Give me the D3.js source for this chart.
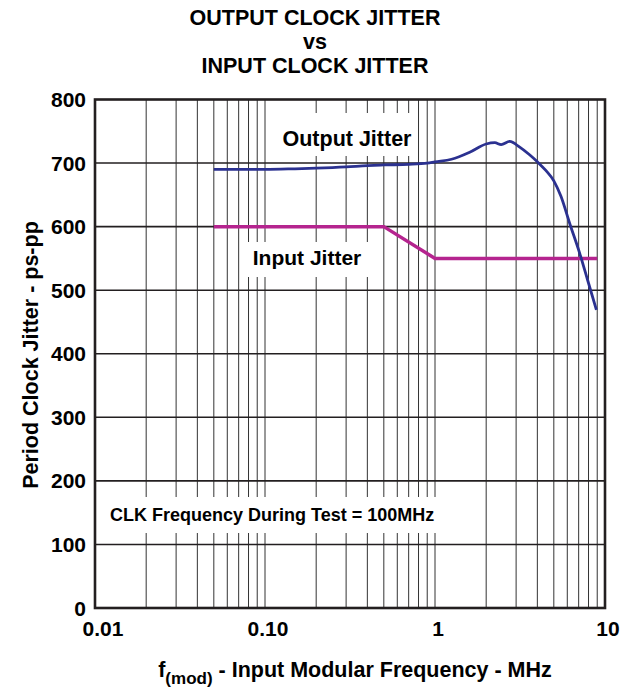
<!DOCTYPE html>
<html>
<head>
<meta charset="utf-8">
<script src="https://cdn.jsdelivr.net/npm/d3@7"></script>
<style>
body { margin: 0; background: #fff; }
svg { display: block; font-family: "Liberation Sans", Arial, sans-serif; font-weight: bold; }
</style>
</head>
<body>
<svg></svg>
<script>
var titleLines = ["OUTPUT CLOCK JITTER", "vs", "INPUT CLOCK JITTER"],
    xTicks = [0.01, 0.1, 1, 10],
    xTickLabels = ["0.01", "0.10", "1", "10"],
    yTicks = [0, 100, 200, 300, 400, 500, 600, 700, 800]

// output jitter
var outFreq = [0.05, 0.07, 0.1, 0.15, 0.2, 0.3, 0.4, 0.5, 0.7, 0.9, 1.0, 1.25, 1.6, 2.0, 2.25, 2.45, 2.75, 3.15, 3.6, 4.0, 4.5, 5.0, 5.5, 6.2, 7.1, 7.9, 8.9],
    outJitter = [690, 690, 690, 691, 692, 694, 696, 697, 698, 700, 702, 706, 717, 730, 732, 729, 734, 725, 713, 702, 688, 672, 648, 605, 558, 516, 469]

var inFreq = [0.05, 0.5, 1, 9],
    inJitter = [600, 600, 550, 550]

var width = 626, height = 693,
    pLeft = 95, pRight = 605, pTop = 99.5, pBottom = 608,
    ink = "#231f20"

var svg = d3.select("svg")
    .attr("width", width)
    .attr("height", height)

var x = d3.scaleLog().domain([0.01, 10]).range([pLeft, pRight]),
    y = d3.scaleLinear().domain([0, 800]).range([pBottom, pTop])

// vertical grid
svg.append("g").selectAll("line")
    .data(x.ticks().filter(d => d > 0.01 && d < 10))
    .enter().append("line")
    .attr("x1", d => x(d)).attr("x2", d => x(d))
    .attr("y1", pTop).attr("y2", pBottom)
    .attr("stroke", "#333")
    .attr("stroke-width", 1)

// white boxes behind the labels
var boxes = [
    { x0: 278, x1: 416, y0: 113, y1: 156 },
    { x0: 240, x1: 377, y0: 242, y1: 277 },
    { x0: 97, x1: 440, y0: 497, y1: 533 }
]
svg.append("g").selectAll("rect")
    .data(boxes)
    .enter().append("rect")
    .attr("x", d => d.x0).attr("y", d => d.y0)
    .attr("width", d => d.x1 - d.x0).attr("height", d => d.y1 - d.y0)
    .attr("fill", "#fff")

// horizontal grid
svg.append("g").selectAll("line")
    .data(yTicks.filter(d => d > 0 && d < 800))
    .enter().append("line")
    .attr("x1", pLeft).attr("x2", pRight)
    .attr("y1", d => y(d)).attr("y2", d => y(d))
    .attr("stroke", ink)
    .attr("stroke-width", 1.6)

var line = d3.line()
    .x(d => x(d[0]))
    .y(d => y(d[1]))

svg.append("path")
    .datum(d3.zip(inFreq, inJitter))
    .attr("d", line)
    .attr("fill", "none")
    .attr("stroke", "#b5248f")
    .attr("stroke-width", 3.5)

svg.append("path")
    .datum(d3.zip(outFreq, outJitter))
    .attr("d", line.curve(d3.curveMonotoneX))
    .attr("fill", "none")
    .attr("stroke", "#2b3190")
    .attr("stroke-width", 2.8)

svg.append("rect")
    .attr("x", pLeft).attr("y", pTop)
    .attr("width", pRight - pLeft).attr("height", pBottom - pTop)
    .attr("fill", "none")
    .attr("stroke", ink)
    .attr("stroke-width", 2.6)

// tick labels
svg.append("g").selectAll("text")
    .data(yTicks)
    .enter().append("text")
    .attr("x", 86)
    .attr("y", d => y(d) + 7.5)
    .attr("text-anchor", "end")
    .attr("font-size", 21)
    .text(d => d)

svg.append("g").selectAll("text")
    .data(xTicks)
    .enter().append("text")
    .attr("x", d => Math.max(x(d) + 3, pLeft + 8))
    .attr("y", 636)
    .attr("text-anchor", "middle")
    .attr("font-size", 21)
    .text((d, i) => xTickLabels[i])

// titles
svg.append("g").selectAll("text")
    .data(titleLines)
    .enter().append("text")
    .attr("x", 315)
    .attr("y", (d, i) => 25 + i * 24)
    .attr("text-anchor", "middle")
    .attr("font-size", 21.5)
    .text(d => d)

svg.append("text")
    .attr("transform", "translate(38,355) rotate(-90)")
    .attr("text-anchor", "middle")
    .attr("font-size", 21.5)
    .text("Period Clock Jitter - ps-pp")

var xTitle = svg.append("text")
    .attr("x", 355)
    .attr("y", 677)
    .attr("text-anchor", "middle")
    .attr("font-size", 21.5)
xTitle.append("tspan").text("f")
xTitle.append("tspan").attr("font-size", 17).attr("dy", 7).text("(mod)")
xTitle.append("tspan").attr("dy", -7).text(" - Input Modular Frequency - MHz")

// curve labels and note
svg.append("text")
    .attr("x", 347).attr("y", 146)
    .attr("text-anchor", "middle")
    .attr("font-size", 21.5)
    .text("Output Jitter")

svg.append("text")
    .attr("x", 307).attr("y", 265)
    .attr("text-anchor", "middle")
    .attr("font-size", 21)
    .text("Input Jitter")

svg.append("text")
    .attr("x", 110).attr("y", 521)
    .attr("font-size", 18)
    .text("CLK Frequency During Test = 100MHz")
</script>
</body>
</html>
